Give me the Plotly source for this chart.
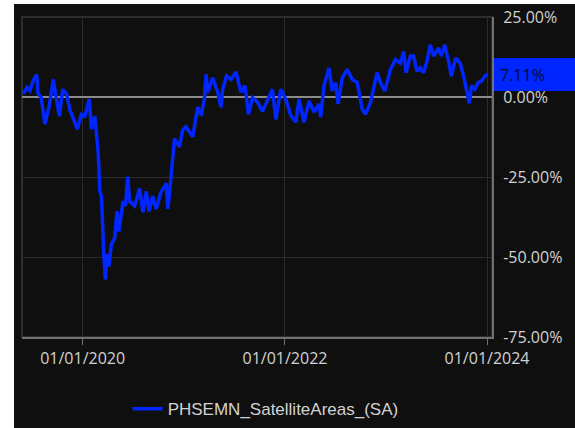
import plotly.graph_objects as go

dates = [
    "2019-06-01", "2019-06-14", "2019-06-25", "2019-07-06", "2019-07-19", "2019-07-24",
    "2019-08-04", "2019-08-18", "2019-09-02", "2019-09-17", "2019-09-27", "2019-10-09",
    "2019-10-21", "2019-11-04", "2019-11-16", "2019-11-28", "2019-12-13", "2019-12-28",
    "2020-01-09", "2020-01-25", "2020-02-02", "2020-02-14", "2020-02-26", "2020-03-03",
    "2020-03-09", "2020-03-17", "2020-03-23", "2020-03-29", "2020-04-05", "2020-04-14",
    "2020-04-26", "2020-05-04", "2020-05-11", "2020-05-26", "2020-06-04", "2020-06-12",
    "2020-06-19", "2020-07-07", "2020-07-25", "2020-08-06", "2020-08-18", "2020-08-28",
    "2020-09-10", "2020-09-23", "2020-10-09", "2020-10-29", "2020-11-04", "2020-11-12",
    "2020-11-22", "2020-11-28", "2020-12-16", "2020-12-27", "2021-01-08", "2021-01-21",
    "2021-02-02", "2021-02-12", "2021-02-20", "2021-03-04", "2021-03-16", "2021-03-22",
    "2021-03-28", "2021-04-15", "2021-05-03", "2021-05-15", "2021-05-21", "2021-06-04",
    "2021-06-20", "2021-07-08", "2021-07-26", "2021-08-10", "2021-08-22", "2021-09-06",
    "2021-09-24", "2021-10-12", "2021-10-30", "2021-11-17", "2021-11-29", "2021-12-17",
    "2022-01-04", "2022-01-22", "2022-02-09", "2022-02-21", "2022-03-11", "2022-03-29",
    "2022-04-16", "2022-05-04", "2022-05-10", "2022-05-22", "2022-06-09", "2022-06-21",
    "2022-07-03", "2022-07-12", "2022-07-27", "2022-08-14", "2022-09-01", "2022-09-19",
    "2022-10-07", "2022-10-19", "2022-11-06", "2022-11-18", "2022-11-30", "2022-12-12",
    "2022-12-28", "2023-01-17", "2023-02-04", "2023-02-22", "2023-03-06", "2023-03-14",
    "2023-03-30", "2023-04-11", "2023-04-23", "2023-05-05", "2023-05-17", "2023-05-29",
    "2023-06-10", "2023-06-22", "2023-07-10", "2023-07-20", "2023-08-01", "2023-08-15",
    "2023-08-25", "2023-09-10", "2023-09-26", "2023-10-11", "2023-10-17", "2023-10-23",
    "2023-10-29", "2023-11-06", "2023-11-18", "2023-11-30", "2023-12-12", "2023-12-24",
    "2024-01-03",
]

values = [
    1.0, 3.0, 2.0, 5.0, 7.0, 1.0,
    0.0, -8.5, -3.0, 5.5, 0.0, -6.0,
    2.4, 1.0, -4.0, -7.0, -10.0, -5.5,
    -6.0, -0.7, -10.0, -6.0, -17.0, -29.5,
    -31.0, -48.0, -57.0, -49.0, -53.0, -46.0,
    -44.0, -35.7, -42.0, -32.6, -34.0, -25.0,
    -32.6, -34.0, -28.6, -36.0, -29.5, -35.7,
    -31.0, -35.0, -30.0, -27.0, -35.0, -28.0,
    -17.7, -13.0, -15.6, -10.4, -9.3, -11.0,
    -12.4, -7.0, -3.2, -5.8, -0.7, 7.1,
    1.5, 6.0, 1.5, -3.2, 2.4, 6.6,
    5.5, 7.8, 1.5, 3.5, -5.4, -0.2,
    -1.6, -4.5, -1.2, 2.4, -7.0, 2.4,
    -0.7, -5.8, -7.9, -0.7, -7.9, -1.2,
    -4.7, -2.2, -6.3, 3.5, 9.1, 1.9,
    4.5, -2.2, 6.0, 8.6, 5.5, 4.5,
    -3.8, -5.4, -1.7, 3.5, 7.6, 4.5,
    1.9, 8.6, 11.7, 10.6, 14.2, 7.6,
    12.8, 12.8, 8.0, 9.1, 7.6, 11.2,
    16.3, 12.8, 15.3, 12.8, 16.3, 11.2,
    6.5, 12.2, 10.6, 5.5, 2.9, -0.7,
    -2.0, 3.5, 2.4, 4.5, 5.0, 6.5,
    7.11,
]

series_name = "PHSEMN_SatelliteAreas_(SA)"
y_ticks = [25, 0, -25, -50, -75]
y_tick_labels = ["25.00%", "0.00%", "-25.00%", "-50.00%", "-75.00%"]
last_value = values[-1]

blue = "#0026ff"
dark = "#0f0f0f"
grey_text = "#d2d2d2"

fig = go.Figure()
fig.add_trace(
    go.Scatter(
        x=dates,
        y=values,
        mode="lines",
        name=series_name,
        line=dict(color=blue, width=3.5),
    )
)

fig.update_layout(
    width=575,
    height=428,
    margin=dict(l=22, r=83, t=17, b=91, autoexpand=False),
    paper_bgcolor="white",
    plot_bgcolor=dark,
    font=dict(family="Open Sans, sans-serif", size=16, color=grey_text),
    showlegend=True,
    legend=dict(
        orientation="h",
        xref="container",
        yref="container",
        x=0.462,
        xanchor="center",
        y=0.044,
        yanchor="middle",
        font=dict(family="Liberation Sans, Arial, sans-serif", size=17, color=grey_text),
        bgcolor="rgba(0,0,0,0)",
        itemwidth=30,
    ),
    shapes=[
        # dark panel behind the whole chart
        dict(
            type="rect", xref="paper", yref="paper",
            x0=-0.017, x1=1.2, y0=-0.3, y1=1.0406,
            fillcolor=dark, line=dict(width=0), layer="below",
        ),
        # thin frame around plot area
        dict(
            type="rect", xref="paper", yref="paper",
            x0=0, x1=1, y0=0, y1=1,
            fillcolor="rgba(0,0,0,0)", line=dict(color="#2e2e2e", width=2), layer="below",
        ),
    ],
    annotations=[
        # last value badge
        dict(
            x=1, xref="paper", y=last_value, yref="y",
            text=f"{last_value:.2f}%", showarrow=False,
            xanchor="left", yanchor="middle", xshift=2,
            width=80, height=21, align="left", valign="middle",
            bgcolor=blue, borderpad=6, borderwidth=0,
            font=dict(family="Open Sans, sans-serif", size=16, color="#000a30"),
        )
    ],
)

fig.update_xaxes(
    type="date",
    range=["2019-05-27", "2024-01-19"],
    tick0="2020-01-01",
    dtick="M24",
    tickformat="%m/%d/%Y",
    showgrid=True,
    gridcolor="#2b2b2b",
    gridwidth=1,
    showline=True,
    linecolor="#707070",
    linewidth=2,
    ticks="outside",
    ticklen=6,
    tickcolor="#707070",
    zeroline=False,
)

fig.update_yaxes(
    side="right",
    range=[-75, 25],
    tickvals=y_ticks,
    ticktext=y_tick_labels,
    showgrid=True,
    gridcolor="#2b2b2b",
    gridwidth=1,
    zeroline=True,
    zerolinecolor="#8c8c8c",
    zerolinewidth=2,
    showline=True,
    linecolor="#707070",
    linewidth=2,
    ticks="",
    ticklabelstandoff=6,
)

fig.write_html(
    "out.html",
    config={"displayModeBar": False},
    post_script="document.body.style.margin = '0';",
)
